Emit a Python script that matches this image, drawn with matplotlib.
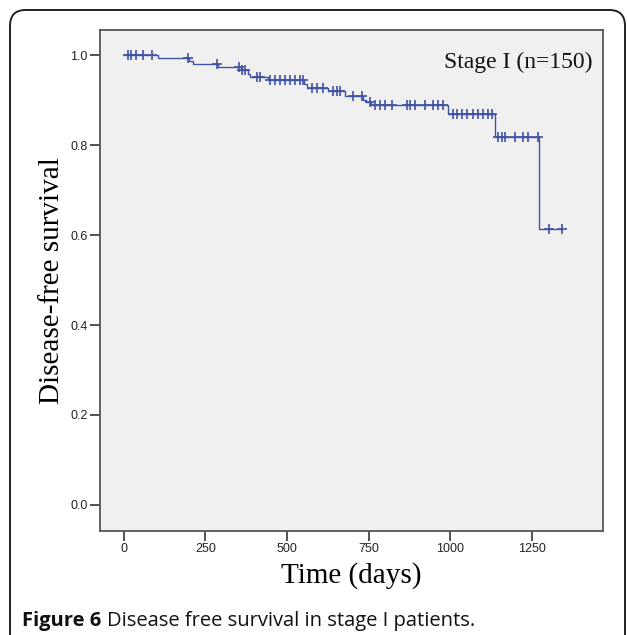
import numpy as np
import matplotlib
matplotlib.use("Agg")
import matplotlib.pyplot as plt
from matplotlib.patches import FancyBboxPatch

# Kaplan-Meier step data
event_times = [0, 105, 200, 212, 288, 358, 380, 386, 440, 552, 560, 625, 677, 732, 742, 758, 993, 1135, 1272]
surv_values = [1.0, 0.993, 0.987, 0.980, 0.973, 0.966, 0.959, 0.952, 0.945, 0.936, 0.928, 0.920, 0.910, 0.901, 0.895, 0.889, 0.870, 0.819, 0.614]
censor_times = [12, 22, 38, 60, 85, 196, 285, 352, 362, 372, 407, 418, 447, 463, 478, 493, 509,
                524, 539, 549, 576, 591, 610, 640, 653, 662, 702, 729, 754, 769, 784, 800, 821,
                867, 876, 892, 922, 947, 962, 977, 1008, 1020, 1036, 1051, 1069, 1085, 1100,
                1115, 1128, 1146, 1158, 1167, 1198, 1223, 1238, 1269, 1302, 1340]
end_time = 1340

x_ticks = [0, 250, 500, 750, 1000, 1250]
y_ticks = [0.0, 0.2, 0.4, 0.6, 0.8, 1.0]

color = "#4052a4"

fig = plt.figure(figsize=(6.27, 6.35), dpi=100)
fig.patch.set_facecolor("white")

# outer rounded frame
frame = FancyBboxPatch((10 / 627, -0.05), (615 / 627), 1.05 - 10 / 635,
                       boxstyle="round,pad=0,rounding_size=0.025",
                       transform=fig.transFigure, fill=False, edgecolor="#222222",
                       linewidth=1.4)
fig.patches.append(frame)

ax = fig.add_axes([100 / 627, 1 - 531 / 635, 503 / 627, 501 / 635])
ax.set_facecolor("#f0f0f0")

# step curve
xs = list(event_times) + [end_time]
ys = list(surv_values) + [surv_values[-1]]
ax.step(xs, ys, where="post", color=color, linewidth=1.0)

# censor marks
idx = np.searchsorted(event_times, censor_times, side="right") - 1
cy = np.array(surv_values)[idx]
ax.plot(censor_times, cy, linestyle="none", marker="+", markersize=7,
        markeredgewidth=1.2, color=color)

ax.set_xlim(-73, 1467)
ax.set_ylim(-0.058, 1.056)
ax.set_xticks(x_ticks)
ax.set_yticks(y_ticks)
ax.set_xticklabels([str(v) for v in x_ticks], fontsize=9, family="Liberation Sans")
ax.set_yticklabels([f"{v:.1f}" for v in y_ticks], fontsize=9, family="Liberation Sans")
ax.tick_params(direction="out", length=7, width=1.2, color="#333333", labelcolor="#222222", pad=2)
for s in ax.spines.values():
    s.set_color("#555555")
    s.set_linewidth(1.3)

ax.set_xlabel("Time (days)", fontsize=21, family="Liberation Serif", labelpad=5)
ax.set_ylabel("Disease-free survival", fontsize=21, family="Liberation Serif", labelpad=4)

ax.text(0.980, 0.936, "Stage I (n=150)", transform=ax.transAxes, ha="right", va="center",
        fontsize=17, family="Liberation Serif", color="#111111")

t1 = fig.text(22 / 627, 1 - 621 / 635, "Figure 6", fontsize=14.5, fontweight="bold",
              family="Open Sans", va="center", ha="left", color="#111111")
fig.canvas.draw()
bb = t1.get_window_extent(renderer=fig.canvas.get_renderer())
x_next = (bb.x1 + 6) / fig.bbox.width
fig.text(x_next, 1 - 621 / 635, "Disease free survival in stage I patients.", fontsize=14.5,
         family="Open Sans", va="center", ha="left", color="#111111")

fig.savefig("out.png", dpi=100)
